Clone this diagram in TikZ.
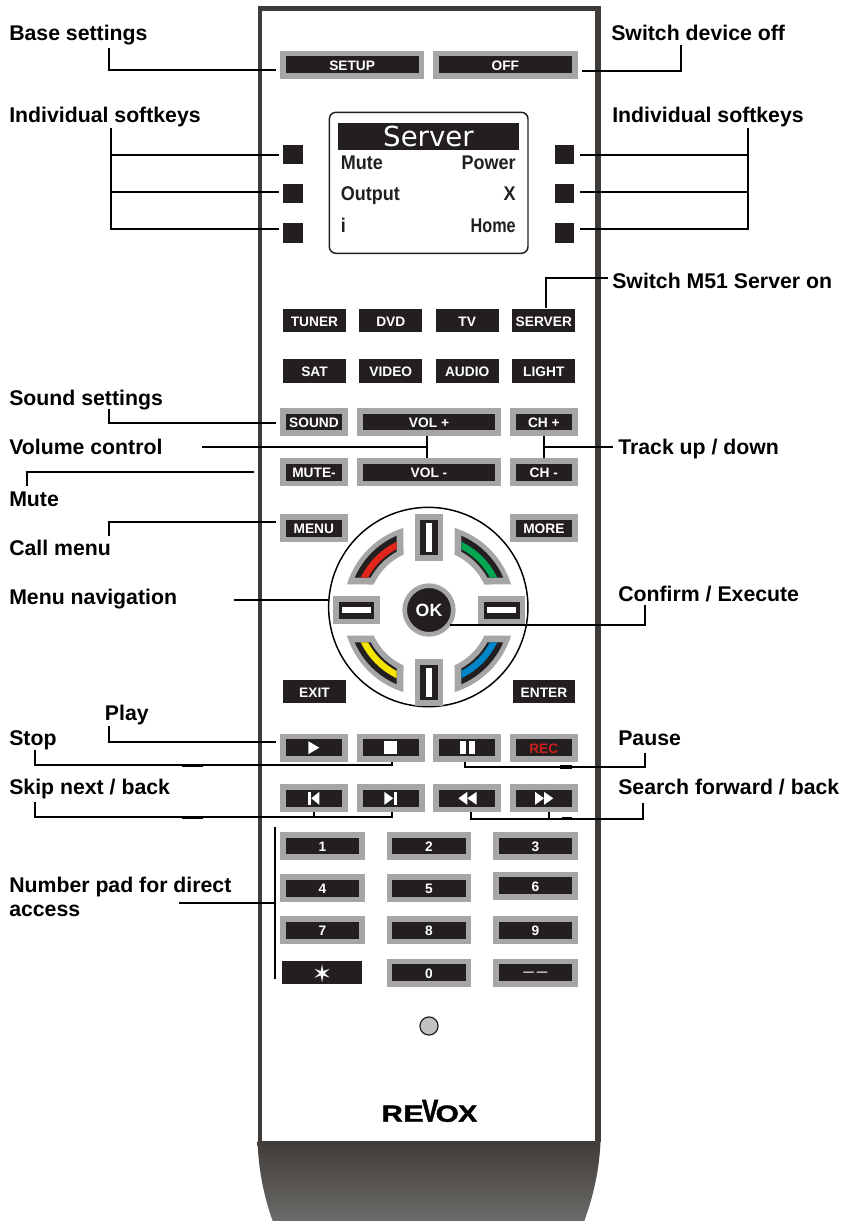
\documentclass[tikz,border=0pt]{standalone}
\usepackage{fontspec}
\usepackage{graphicx}
\setmainfont{Liberation Sans}
\newfontfamily\lcdbig{DejaVu Sans}
\newfontfamily\logofont[FakeBold=1.6]{Liberation Sans Bold}
\definecolor{ink}{HTML}{231F20}
\definecolor{keygrey}{HTML}{A6A6A6}
\definecolor{shellc}{HTML}{3F3B38}
\definecolor{shellend}{HTML}{6C6B69}
\definecolor{padred}{HTML}{E1251B}
\definecolor{padgreen}{HTML}{00A651}
\definecolor{padyellow}{HTML}{F6E500}
\definecolor{padblue}{HTML}{0085C8}
\definecolor{recred}{HTML}{C8201A}
\tikzset{
  lbl/.style={anchor=base west,inner sep=0pt,font=\fontsize{15.95}{18}\selectfont\bfseries,text=black},
  lnk/.style={draw=black,line width=1.3pt},
  thk/.style={draw=black,line width=2.4pt},
  btxt/.style={text=white,font=\fontsize{10.3}{12}\selectfont\bfseries,inner sep=0pt},
  lcdtxt/.style={inner sep=0pt,font=\fontsize{13.5}{16}\selectfont\bfseries,text=ink},
}
\newcommand{\lcdtall}[1]{\scalebox{1}[1.1]{#1}}
% \keycap{name}{x0}{y0}{x1}{y1}{text}: grey frame + dark face
\newcommand{\keycap}[6]{%
  \fill[keygrey] (#2,#3) rectangle (#4,#5);
  \fill[ink] ({#2+5.7},{#3+5.7}) rectangle ({#4-5.7},{#5-5.7});
  \node[btxt,minimum width=0pt] (#1) at ({(#2+#4)/2},{(#3+#5)/2+0.7}) {#6};
}
\newcommand{\flatkey}[6]{%
  \fill[ink] (#2,#3) rectangle (#4,#5);
  \node[btxt] (#1) at ({(#2+#4)/2},{(#3+#5)/2+0.9}) {#6};
}
\newcommand{\padsector}[3]{% xscale, yscale, colour
  \begin{scope}[shift={(429,610)},x=.75pt,y=.75pt,xscale=#1,yscale=#2]
    \fill[keygrey] (90+17.3:86) arc[start angle=107.3,end angle=162.7,radius=86] -- (180-24.7:61) arc[start angle=155.3,end angle=114.7,radius=61] -- cycle;
    \fill[ink] (90+23.5:81) arc[start angle=113.5,end angle=156.5,radius=81] -- (180-28.9:66.8) arc[start angle=151.1,end angle=118.9,radius=66.8] -- cycle;
    \fill[#3] (90+25.3:75.5) arc[start angle=115.3,end angle=154.7,radius=75.5] -- (180-27.9:69) arc[start angle=152.1,end angle=117.9,radius=69] -- cycle;
  \end{scope}
}
\begin{document}
\begin{tikzpicture}[x=.75pt,y=-.75pt]
\useasboundingbox (0,0) rectangle (843,1221);
\fill[white] (0,0) rectangle (843,1221);
% case
\fill[shellc] (257.5,6) rectangle (600.5,1142);
\fill[white] (262,11) rectangle (595,1141);
\shade[top color=shellc,bottom color=shellend] (257.5,1141) .. controls (258.5,1170) and (264,1197) .. (272.7,1221) -- (584.3,1221) .. controls (593,1197) and (599.5,1170) .. (600.5,1141) -- cycle;
% top keys
\keycap{setup}{280}{50.7}{424.3}{78.7}{SETUP}
\keycap{off}{433}{50.7}{577.7}{78.7}{OFF}
% softkeys
\fill[ink] (283.3,145.3) rectangle (302.7,164.3);
\fill[ink] (283.3,184) rectangle (302.7,203.3);
\fill[ink] (283.3,223.3) rectangle (302.7,242.7);
\fill[ink] (555,145.3) rectangle (574.3,164.3);
\fill[ink] (555,184) rectangle (574.3,203.3);
\fill[ink] (555,223.3) rectangle (574.3,242.7);
\coordinate (sl1) at (279.3,154.7); \coordinate (sl2) at (279.3,191.7); \coordinate (sl3) at (279.3,229);
\coordinate (sr1) at (580,154.7); \coordinate (sr2) at (580,191.7); \coordinate (sr3) at (580,229);
% display
\draw[ink,line width=1.1pt,fill=white,rounded corners=5pt] (329.3,112.3) rectangle (528,253.3);
\fill[ink] (337.7,122.7) rectangle (519,150);
\node[inner sep=0pt,anchor=base,text=white,font=\lcdbig\fontsize{20.7}{24}\selectfont] (srv) at (428.5,146.5) {Server};
\node[lcdtxt,anchor=base west] (d1) at (340.7,169.5) {\lcdtall{Mute}};
\node[lcdtxt,anchor=base west] (d2) at (340.7,200) {\lcdtall{Output}};
\node[lcdtxt,anchor=base west] (d3) at (340.7,232) {\lcdtall{i}};
\node[lcdtxt,anchor=base east] (d4) at (516,169.5) {\lcdtall{Power}};
\node[lcdtxt,anchor=base east] (d5) at (516,200) {\lcdtall{X}};
\node[lcdtxt,anchor=base east] (d6) at (516,232) {\scalebox{.9}[1.1]{Home}};
% source keys
\flatkey{tuner}{283}{309}{346}{332}{TUNER}
\flatkey{dvd}{359.3}{309}{422.3}{332}{DVD}
\flatkey{tv}{435.7}{309}{498.7}{332}{TV}
\flatkey{server}{512.3}{309}{575.3}{332}{SERVER}
\flatkey{sat}{283}{359}{346}{383}{SAT}
\flatkey{video}{359.3}{359}{422.3}{383}{VIDEO}
\flatkey{audio}{435.7}{359}{498.7}{383}{AUDIO}
\flatkey{light}{512.3}{359}{575.3}{383}{LIGHT}
% volume rows
\keycap{sound}{280}{408}{348}{435.7}{SOUND}
\keycap{volp}{357}{408}{501}{435.7}{VOL +}
\keycap{chp}{510}{408}{577.7}{435.7}{CH +}
\keycap{mute}{280}{458.3}{348}{486.3}{MUTE-}
\keycap{volm}{357}{458.3}{501}{486.3}{VOL -}
\keycap{chm}{510}{458.3}{577.7}{486.3}{CH -}
\keycap{menu}{280}{514.3}{347.7}{542.3}{MENU}
\keycap{more}{510}{514.3}{577.7}{542.3}{MORE}
\flatkey{exit}{283}{680.3}{346}{703}{EXIT}
\flatkey{enter}{513}{680.3}{575}{703}{ENTER}
% navigation pad
\node[circle,draw=black,line width=1.1pt,minimum size=149.5pt,inner sep=0pt] (ring) at (428.3,607) {};
\padsector{1}{1}{padred}
\padsector{-1}{1}{padgreen}
\padsector{1}{-1}{padyellow}
\padsector{-1}{-1}{padblue}
\fill[keygrey] (414.7,514.3) rectangle (443.3,561);
\fill[ink] (420.3,520) rectangle (437.7,555.3);
\fill[white] (425.7,522.7) rectangle (432.3,552.3);
\fill[keygrey] (414.7,659.3) rectangle (443.3,706);
\fill[ink] (420.3,665) rectangle (437.7,700.3);
\fill[white] (425.7,668) rectangle (432.3,697.3);
\fill[keygrey] (332.7,596) rectangle (379.7,624.3);
\fill[ink] (338.5,601.5) rectangle (374,619);
\fill[white] (341.7,607) rectangle (371.3,613.3);
\fill[keygrey] (478.3,596) rectangle (525.3,624.3);
\fill[ink] (484,601.5) rectangle (519.5,619);
\fill[white] (487,607) rectangle (516.3,613.3);
\node[circle,fill=ink,draw=keygrey,line width=3.5pt,minimum size=36.5pt,inner sep=0pt,text=white,font=\fontsize{13.3}{15}\selectfont\bfseries] (ok) at (429,610) {OK};
% transport
\keycap{play}{280}{733.7}{348}{761.7}{}
\keycap{stop}{357}{733.7}{424.7}{761.7}{}
\keycap{pause}{433}{733.7}{500.7}{761.7}{}
\fill[keygrey] (510,733.7) rectangle (577.7,761.7);
\fill[ink] (515.7,739.4) rectangle (572,756);
\node[btxt,text=recred] (rec) at (543.8,748.4) {REC};
\fill[white] (308.3,741.2) -- (319.3,747.7) -- (308.3,754.2) -- cycle;
\fill[white] (384,741.3) rectangle (397.3,754);
\fill[white] (460,741.3) rectangle (466,754);
\fill[white] (469,741.3) rectangle (475,754);
\keycap{prev}{280}{784.3}{348}{812.3}{}
\keycap{next}{357}{784.3}{424.7}{812.3}{}
\keycap{rew}{433}{784.3}{500.7}{812.3}{}
\keycap{ffw}{510}{784.3}{577.7}{812.3}{}
\fill[white] (308,791.8) rectangle (311,804.8);
\fill[white] (319.3,791.8) -- (311.3,798.3) -- (319.3,804.8) -- cycle;
\fill[white] (384.3,791.8) -- (393.3,798.3) -- (384.3,804.8) -- cycle;
\fill[white] (393.7,791.8) rectangle (397,804.8);
\fill[white] (467.3,791.8) -- (458.3,798.3) -- (467.3,804.8) -- cycle;
\fill[white] (476.7,791.8) -- (467.3,798.3) -- (476.7,804.8) -- cycle;
\fill[white] (535,791.8) -- (544,798.3) -- (535,804.8) -- cycle;
\fill[white] (544,791.8) -- (553.3,798.3) -- (544,804.8) -- cycle;
% number pad
\keycap{n1}{280}{832}{364.7}{860}{1}
\keycap{n2}{386.7}{832}{471.3}{860}{2}
\keycap{n3}{493.3}{832}{577.7}{860}{3}
\keycap{n4}{280}{874.3}{364.7}{902.3}{4}
\keycap{n5}{386.7}{874.3}{471.3}{902.3}{5}
\keycap{n6}{493.3}{871.7}{577.7}{899.7}{6}
\keycap{n7}{280}{916.3}{364.7}{944.3}{7}
\keycap{n8}{386.7}{916.3}{471.3}{944.3}{8}
\keycap{n9}{493.3}{916.3}{577.7}{944.3}{9}
\flatkey{nstar}{282.3}{961}{362.3}{984.3}{\lcdbig\fontsize{18}{18}\selectfont ✶}
\keycap{n0}{386.7}{958.7}{471.3}{986.7}{0}
\keycap{nd}{493.3}{958.7}{577.7}{986.7}{\raisebox{-1.6pt}{\fontsize{8}{10}\selectfont\bfseries --- ---}}
% LED and logo
\node[circle,fill=keygrey!70!white,draw=ink,line width=.9pt,minimum size=13.6pt,inner sep=0pt] (led) at (429,1026) {};
\node[anchor=base,inner sep=0pt,text=black,font=\logofont\fontsize{17.5}{20}\selectfont] (logo) at (429.5,1121.7)
  {\scalebox{1.25}[1]{R}\kern.4pt\scalebox{1.3}[1]{E}\kern-1.2pt\scalebox{1.05}[1.36]{V}\kern-2pt\scalebox{1.28}[1]{O}\kern-.5pt\scalebox{1.22}[1]{X}};
% labels
\node[lbl] (tbase) at (9,40.5) {Base settings};
\node[lbl] (toff) at (611,40.5) {Switch device off};
\node[lbl] (tsl) at (9,122.7) {Individual softkeys};
\node[lbl] (tsr) at (612,122.7) {Individual softkeys};
\node[lbl] (tsrv) at (612,288) {Switch M51 Server on};
\node[lbl] (tsnd) at (9,405) {Sound settings};
\node[lbl] (tvol) at (9,454) {Volume control};
\node[lbl] (ttrk) at (618,454) {Track up / down};
\node[lbl] (tmut) at (9,506) {Mute};
\node[lbl] (tmen) at (9,555.5) {Call menu};
\node[lbl] (tnav) at (9,604) {Menu navigation};
\node[lbl] (tcon) at (618,601) {Confirm / Execute};
\node[lbl] (tply) at (104.7,720.7) {Play};
\node[lbl] (tstp) at (9,745) {Stop};
\node[lbl] (tpau) at (618,745) {Pause};
\node[lbl] (tskp) at (9,794) {Skip next / back};
\node[lbl] (tsch) at (618,794) {Search forward / back};
\node[lbl,align=left] (tnum) at (9,916.7) {Number pad for direct\\access};
% connector end points
\coordinate (a1) at (108.7,48); \coordinate (a2) at (276,70.3);
\coordinate (b1) at (681,45); \coordinate (b2) at (582,71.3);
\coordinate (c1) at (111,128); \coordinate (c2) at (748,128);
\coordinate (e1) at (608,278.3);
\coordinate (f1) at (108.7,409); \coordinate (f2) at (276,422.7);
\coordinate (g1) at (202,446.7); \coordinate (g2) at (613,446.7);
\coordinate (h1) at (26.7,486); \coordinate (h2) at (254.3,472.3);
\coordinate (i1) at (108.7,536); \coordinate (i2) at (276,522.3);
\coordinate (j1) at (234,600);
\coordinate (k1) at (645,605);
\coordinate (l1) at (108.7,726); \coordinate (l2) at (276,741.7);
\coordinate (m1) at (35.3,750);
\coordinate (n1e) at (35.3,802.3);
\coordinate (o1) at (645.3,752.7);
\coordinate (p1) at (642.7,803.3);
\coordinate (q1) at (179,903); \coordinate (q2) at (275.3,827.3); \coordinate (q3) at (275.3,979.3);
% connectors
\draw[lnk] (a1) |- (a2);
\draw[lnk] (b1) |- (b2);
\draw[lnk] (c1) |- (sl1);
\draw[lnk] (c1 |- sl2) -- (sl2);
\draw[lnk] (c1) |- (sl3);
\draw[lnk] (c2) |- (sr1);
\draw[lnk] (c2 |- sr2) -- (sr2);
\draw[lnk] (c2) |- (sr3);
\draw[lnk] (546,307.7) coordinate (sv) -- (sv |- e1) -- (e1);
\draw[lnk] (f1) |- (f2);
\draw[lnk] (426.7,435.7) coordinate (v1) -- (426.7,458.3);
\draw[lnk] (g1) -- (v1 |- g1);
\draw[lnk] (543.7,435.7) coordinate (t1) -- (543.7,458.3);
\draw[lnk] (t1 |- g2) -- (g2);
\draw[lnk] (h1) |- (h2);
\draw[lnk] (i1) |- (i2);
\draw[lnk] (j1) -- (328.7,600);
\draw[lnk] (k1) |- (450,625.3);
\draw[lnk] (l1) |- (l2);
\draw[lnk] (m1) |- (391.7,765.3) coordinate (m2) -- (391.7,761.7);
\draw[thk] (182,765.3) -- (203,765.3);
\draw[lnk] (n1e) |- (391.7,817.3) -- (391.7,812.3);
\draw[lnk] (314,817.3) -- (314,812.3);
\draw[thk] (182,817.3) -- (203,817.3);
\draw[lnk] (464.7,761.7) |- (o1 |- 0,767) -- (o1);
\draw[thk] (560,767) -- (571.7,767);
\draw[lnk] (471.3,812.3) |- (p1 |- 0,818.7) -- (p1);
\draw[lnk] (549,812.3) -- (549,818.7);
\draw[thk] (561.7,818.7) -- (572,818.7);
\draw[lnk] (q2) -- (q3);
\draw[lnk] (q1) -- (q1 -| q2);
\end{tikzpicture}
\end{document}
